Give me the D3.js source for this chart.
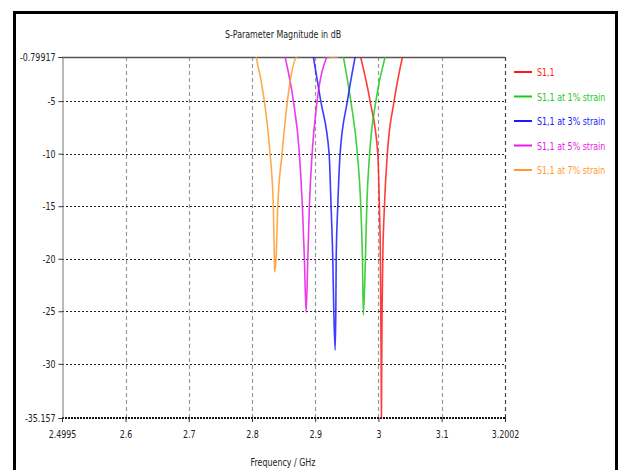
<!DOCTYPE html>
<html>
<head>
<meta charset="utf-8">
<script src="https://cdn.jsdelivr.net/npm/d3@7"></script>
<style>
  html, body { margin: 0; padding: 0; background: white; overflow: hidden; }
  text { font-family: "DejaVu Sans", sans-serif; font-stretch: condensed; font-size: 11px; }
</style>
</head>
<body>
<svg width="619" height="470"></svg>
<script>
// axis ticks
var xTicks = [2.4995, 2.6, 2.7, 2.8, 2.9, 3, 3.1, 3.2002]
var yTicks = [-0.79917, -5, -10, -15, -20, -25, -30, -35.157]

// series (GHz, dB)
var names = ["S1,1", "S1,1 at 1% strain", "S1,1 at 3% strain", "S1,1 at 5% strain", "S1,1 at 7% strain"]
var colors = ["#ff1a1a", "#1fc81f", "#1a1aff", "#e61ae6", "#ff9a2e"]

var redF = [2.9718, 2.9868, 2.9990, 3.0015, 3.0031, 3.0037, 3.0043, 3.0047, 3.0052, 3.0058, 3.0069, 3.0095, 3.0141, 3.0248, 3.0380]
var redDb = [-0.8, -5, -10, -15, -20, -25, -30, -35.6, -30, -25, -20, -15, -10, -5, -0.8]

var greenF = [2.9446, 2.9563, 2.9667, 2.9721, 2.9747, 2.9762, 2.9794, 2.9816, 2.9861, 2.9959, 3.0106]
var greenDb = [-0.8, -5, -10, -15, -20, -25.35, -20, -15, -10, -5, -0.8]

var blueF = [2.8971, 2.9088, 2.9220, 2.9251, 2.9278, 2.9294, 2.9315, 2.9326, 2.9332, 2.9357, 2.9394, 2.9509, 2.9631]
var blueDb = [-0.8, -5, -10, -15, -20, -25, -28.7, -25, -20, -15, -10, -5, -0.8]

var magentaF = [2.8523, 2.8655, 2.8750, 2.8797, 2.8829, 2.8856, 2.8883, 2.8908, 2.8951, 2.9030, 2.9183]
var magentaDb = [-0.8, -5, -10, -15, -20, -25.1, -20, -15, -10, -5, -0.8]

var orangeF = [2.8065, 2.8196, 2.8286, 2.8338, 2.8354, 2.8357, 2.8381, 2.8408, 2.8476, 2.8560, 2.8709, 2.8900, 2.9230, 2.9285, 2.9340, 2.9500]
var orangeDb = [-0.8, -5, -10, -15, -20, -21.26, -20, -15, -10, -5, -0.8, -0.5, -0.79, -0.83, -0.79, -0.5]

var series = [
  {f: redF, db: redDb},
  {f: greenF, db: greenDb},
  {f: blueF, db: blueDb},
  {f: magentaF, db: magentaDb},
  {f: orangeF, db: orangeDb}
]

var svg = d3.select("svg")
var plotL = 62, plotR = 505, plotT = 57, plotB = 418

var x = d3.scaleLinear().domain([2.4995, 3.2002]).range([plotL, plotR])
var y = d3.scaleLinear().domain([-0.79917, -35.157]).range([plotT, plotB])

//Outer frame
svg.append("rect").attr("x", 14.5).attr("y", 12.5).attr("width", 602).attr("height", 480)
    .attr("fill", "none").attr("stroke", "black").attr("stroke-width", 3)

svg.append("text").attr("x", 283).attr("y", 38).attr("text-anchor", "middle")
    .attr("fill", "#222").text("S-Parameter Magnitude in dB")

svg.append("clipPath").attr("id", "plotclip").append("rect")
    .attr("x", plotL).attr("y", plotT).attr("width", plotR - plotL).attr("height", plotB - plotT)

//Grid
var grid = svg.append("g")
grid.selectAll(".vg").data(xTicks.slice(1)).enter().append("line")
    .attr("x1", d => Math.round(x(d)) + 0.5).attr("x2", d => Math.round(x(d)) + 0.5)
    .attr("y1", plotT).attr("y2", plotB)
    .attr("stroke", (d, i) => i == xTicks.length - 2 ? "#444" : "#999")
    .attr("stroke-width", 1.2).attr("stroke-dasharray", "4,3")
grid.selectAll(".hg").data(yTicks.slice(1, -1)).enter().append("line")
    .attr("x1", plotL).attr("x2", plotR)
    .attr("y1", d => Math.round(y(d)) + 0.5).attr("y2", d => Math.round(y(d)) + 0.5)
    .attr("stroke", "#222").attr("stroke-width", 1).attr("stroke-dasharray", "2,2")

//Top line and bottom dotted axis
svg.append("line").attr("x1", plotL).attr("x2", plotR).attr("y1", plotT + 0.5).attr("y2", plotT + 0.5)
    .attr("stroke", "#555").attr("stroke-width", 1.3)
svg.append("line").attr("x1", plotL).attr("x2", plotR).attr("y1", plotB).attr("y2", plotB)
    .attr("stroke", "#111").attr("stroke-width", 2).attr("stroke-dasharray", "2,1")

//Curves
var line = d3.line().x(d => x(d[0])).y(d => y(d[1])).curve(d3.curveMonotoneX)
var curves = svg.append("g").attr("clip-path", "url(#plotclip)")
series.forEach(function (s, i) {
    var pts = s.f.map((f, j) => [f, s.db[j]])
    curves.append("path").attr("d", line(pts)).attr("fill", "none")
        .attr("stroke", colors[i]).attr("stroke-width", 1.6).attr("stroke-opacity", 0.85)
})

//Axes
var yAxis = d3.axisLeft(y).tickValues(yTicks).tickSize(4).tickPadding(3).tickFormat(d => String(d))
var gy = svg.append("g").attr("transform", "translate(" + (plotL + 0.5) + ",0)").call(yAxis)
gy.select(".domain").attr("stroke", "#777")
gy.selectAll("line").attr("stroke", "#333")
gy.selectAll("text").attr("fill", "#222")

var xAxis = d3.axisBottom(x).tickValues(xTicks).tickSize(4).tickPadding(8).tickFormat(d => String(d))
var gx = svg.append("g").attr("transform", "translate(0," + plotB + ")").call(xAxis)
gx.select(".domain").remove()
gx.selectAll("line").attr("stroke", "#333")
gx.selectAll("text").attr("fill", "#222")
svg.selectAll("g").attr("font-family", null).attr("font-size", null)

svg.append("text").attr("x", 283).attr("y", 466).attr("text-anchor", "middle")
    .attr("fill", "#222").text("Frequency / GHz")

//Legend
var legend = svg.append("g")
names.forEach(function (n, i) {
    var ly = 72 + i * 24.5
    legend.append("line").attr("x1", 514).attr("x2", 532).attr("y1", ly).attr("y2", ly)
        .attr("stroke", colors[i]).attr("stroke-width", 2)
    legend.append("text").attr("x", 537).attr("y", ly + 4).attr("fill", colors[i])
        .style("font-size", "10px").text(n)
})

//squeeze all texts sideways like the narrow original font
svg.selectAll("text").each(function () {
    var w = this.getComputedTextLength()
    var k = this.style.fontSize == "10px" ? 0.88 : 0.8
    d3.select(this).attr("textLength", w * k).attr("lengthAdjust", "spacingAndGlyphs")
})
</script>
</body>
</html>
